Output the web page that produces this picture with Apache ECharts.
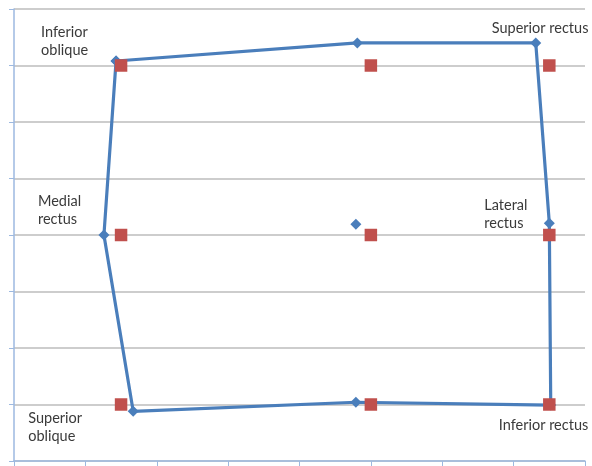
<!DOCTYPE html>
<html>
<head>
<meta charset="utf-8">
<script src="https://cdn.jsdelivr.net/npm/echarts@6/dist/echarts.min.js"></script>
<style>
  html, body { margin: 0; padding: 0; background: #fff; }
  #chart { width: 592px; height: 466px; }
</style>
</head>
<body>
<div id="chart"></div>
<script>
// Measured field: blue outline through the nine gaze positions (closed loop)
const measuredX = [1.43, 4.81, 7.31, 7.50, 7.52, 4.79, 1.67, 1.26, 1.43];
const measuredY = [7.08, 7.40, 7.40, 4.21, 0.99, 1.04, 0.88, 4.00, 7.08];
const measuredNames = ['Inferior\noblique', '', 'Superior rectus', 'Lateral\nrectus',
  'Inferior rectus', '', 'Superior\noblique', 'Medial\nrectus', ''];

// Primary position of the measured eye
const centerX = [4.79];
const centerY = [4.19];

// Expected positions: red squares on a 3 x 3 grid
const expectedX = [1.5, 5, 7.5, 1.5, 5, 7.5, 1.5, 5, 7.5];
const expectedY = [7, 7, 7, 4, 4, 4, 1, 1, 1];

// Label placement (text top-left relative to the marker centre)
const labelOffsets = {
  'Inferior\noblique': [-75, -38],
  'Superior rectus': [-44, -24],
  'Lateral\nrectus': [-65, -27],
  'Inferior rectus': [-52, 11],
  'Superior\noblique': [-105, -2],
  'Medial\nrectus': [-66, -43]
};

const blue = '#4A7EBB';
const red = '#C0504D';

const measuredData = measuredX.map((x, i) => {
  const name = measuredNames[i];
  const item = { value: [x, measuredY[i]], name: name };
  if (name) {
    item.label = {
      show: true,
      formatter: name,
      position: 'inside',
      align: 'left',
      verticalAlign: 'top',
      offset: labelOffsets[name]
    };
  }
  return item;
});

const chart = echarts.init(document.getElementById('chart'), null, { renderer: 'canvas' });
chart.setOption({
  animation: false,
  backgroundColor: '#ffffff',
  grid: { left: 14, right: 7, top: 9, bottom: 5, containLabel: false },
  xAxis: {
    type: 'value', min: 0, max: 8, interval: 1,
    axisLine: { show: true, onZero: false, lineStyle: { color: '#9DB9E0', width: 1.5 } },
    axisTick: { show: true, inside: false, length: 5, lineStyle: { color: '#9DB9E0', width: 1 } },
    axisLabel: { show: false },
    splitLine: { show: false }
  },
  yAxis: {
    type: 'value', min: 0, max: 8, interval: 1,
    axisLine: { show: true, onZero: false, lineStyle: { color: '#9DB9E0', width: 1.5 } },
    axisTick: { show: true, inside: false, length: 5, lineStyle: { color: '#9DB9E0', width: 1 } },
    axisLabel: { show: false },
    splitLine: { show: true, lineStyle: { color: '#BDBDBD', width: 1.5 } }
  },
  series: [
    {
      type: 'line',
      data: measuredData,
      symbol: 'diamond',
      symbolSize: 11,
      lineStyle: { color: blue, width: 3.2 },
      itemStyle: { color: blue, opacity: 1 },
      label: {
        show: false,
        color: '#3A3A3A',
        fontFamily: 'Lato, "Open Sans", sans-serif',
        fontSize: 14.5,
        lineHeight: 18
      },
      z: 2
    },
    {
      type: 'scatter',
      data: centerX.map((x, i) => [x, centerY[i]]),
      symbol: 'diamond',
      symbolSize: 11,
      itemStyle: { color: blue, opacity: 1 },
      z: 2
    },
    {
      type: 'scatter',
      data: expectedX.map((x, i) => [x, expectedY[i]]),
      symbol: 'rect',
      symbolSize: 12.5,
      itemStyle: { color: red, opacity: 1 },
      z: 3
    }
  ]
});
</script>
</body>
</html>
